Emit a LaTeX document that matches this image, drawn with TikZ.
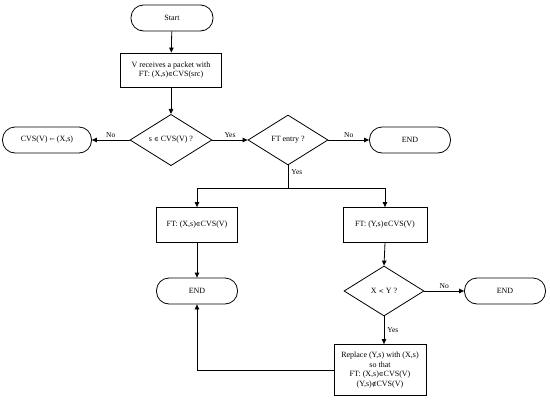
\documentclass[tikz,border=0pt]{standalone}
\usepackage{fontspec}
\setmainfont{Liberation Serif}
\newfontfamily\symf{DejaVu Serif}[Scale=0.8]
\newcommand{\isin}{{\symf ∈}}
\newcommand{\notisin}{{\symf ∉}}
\newcommand{\larr}{{\symf ←}}
\usetikzlibrary{shapes.geometric,arrows.meta}
\begin{document}
\begin{tikzpicture}[x=1pt,y=-1pt,
  every node/.style={font=\fontsize{8}{9.5}\selectfont},
  term/.style={draw,line width=0.8pt,rounded corners=12.5pt,minimum height=26pt,inner sep=0pt,align=center},
  proc/.style={draw,line width=0.8pt,inner sep=0pt,align=center},
  dec/.style={draw,line width=0.8pt,diamond,inner sep=0pt,minimum width=82pt,minimum height=50pt,align=center},
  lbl/.style={font=\fontsize{7.5}{9}\selectfont,inner sep=1pt},
  conn/.style={line width=0.8pt,-{Triangle[length=5pt,width=4.5pt]}},
  plain/.style={line width=0.8pt}]
\useasboundingbox (0,0) rectangle (550,402);
\node[term,minimum width=82pt] (start) at (172,18) {Start};
\node[proc,minimum width=101pt,minimum height=34pt] (recv) at (171,70) {V receives a packet with\\FT: (X,s)\isin CVS(src)};
\node[dec] (d1) at (171,140) {s \isin{} CVS(V) ?};
\node[term,minimum width=89pt] (cvs) at (47,140) {CVS(V) \larr{} (X,s)};
\node[dec,minimum width=80pt] (d2) at (288,140) {FT entry ?};
\node[term,minimum width=81pt] (end1) at (410,140) {END};
\node[proc,minimum width=81pt,minimum height=35pt] (fx) at (197,225) {FT: (X,s)\isin CVS(V)};
\node[proc,minimum width=84pt,minimum height=35pt] (fy) at (385,225) {FT: (Y,s)\isin CVS(V)};
\node[term,minimum width=81pt] (end2) at (197,291) {END};
\node[dec,minimum width=80pt] (d3) at (384,291) {X {\symf <} Y ?};
\node[term,minimum width=81pt] (end3) at (505,291) {END};
\node[proc,minimum width=92pt,minimum height=51pt] (rep) at (380,370) {Replace (Y,s) with (X,s)\\so that\\FT: (X,s)\isin CVS(V)\\(Y,s)\notisin CVS(V)};
\coordinate (br) at (288,188);
\draw[conn] (start) -- (recv);
\draw[conn] (recv) -- (d1);
\draw[conn] (d1.west) -- node[lbl,above=1pt]{No} (cvs.east);
\draw[conn] (d1.east) -- node[lbl,above=1pt]{Yes} (d2.west);
\draw[conn] (d2.east) -- node[lbl,above=1pt]{No} (end1.west);
\draw[plain] (d2.south) -- node[lbl,right=2pt,pos=0.3]{Yes} (br);
\draw[conn] (br) -| (fx.north);
\draw[conn] (br) -| (fy.north);
\draw[conn] (fx) -- (end2);
\draw[conn] (fy.south) -- (d3.north);
\draw[conn] (d3.east) -- node[lbl,above=1pt]{No} (end3.west);
\draw[conn] (d3.south) -- node[lbl,right=2pt]{Yes} (d3.south |- rep.north);
\draw[conn] (rep.west) -| (end2.south);
\end{tikzpicture}
\end{document}
